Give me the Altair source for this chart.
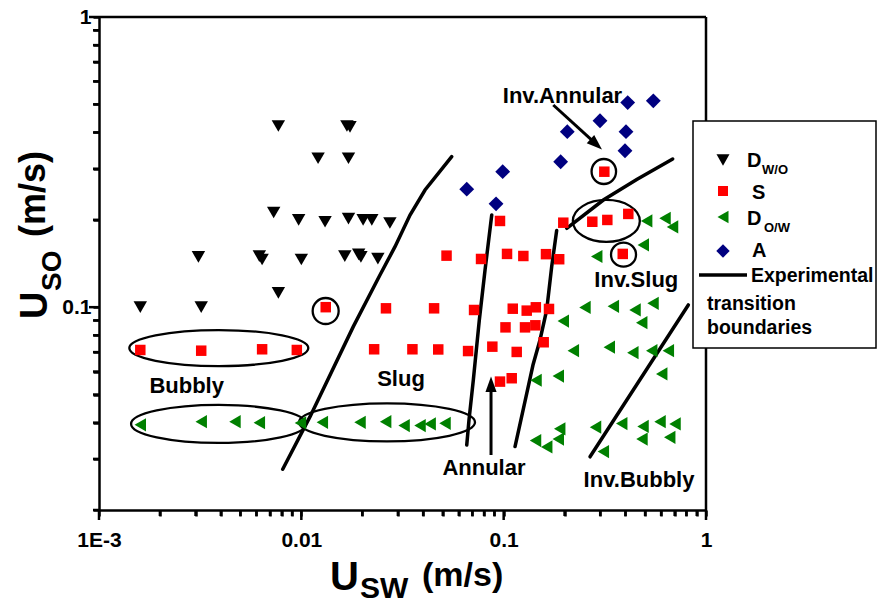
import math
import altair as alt
import pandas as pd

# ---------------- data ----------------
series_names = ["D_W/O", "S", "D_O/W", "A"]
series_colors = ["#000000", "#FF0000", "#008000", "#000080"]
series_shapes = ["triangle-down", "square", "triangle-left", "diamond"]
series_sizes = [180, 110, 175, 220]

dwo_x = [0.0016, 0.0032, 0.0077, 0.0031, 0.0064, 0.0062, 0.0100, 0.0164, 0.0197, 0.0192, 0.0239,
         0.0073, 0.0097, 0.0131, 0.0171, 0.0202, 0.0223, 0.0274, 0.0121, 0.0171, 0.0077, 0.0168, 0.0174]
dwo_y = [0.100, 0.100, 0.112, 0.149, 0.146, 0.150, 0.146, 0.150, 0.149, 0.152, 0.147,
         0.212, 0.200, 0.197, 0.202, 0.200, 0.200, 0.195, 0.326, 0.326, 0.421, 0.421, 0.418]

s_x = [0.0016, 0.0032, 0.0064, 0.0095, 0.0132, 0.0229, 0.0262, 0.0354, 0.0453, 0.0475,
       0.0522, 0.0667, 0.0714, 0.0773, 0.0879, 0.0959, 0.0959, 0.1021, 0.1039, 0.1109,
       0.1096, 0.1160, 0.1251, 0.1275, 0.1300, 0.1434, 0.1442, 0.1577, 0.1619, 0.1675,
       0.1881, 0.1971, 0.2742, 0.3144, 0.3253, 0.3877, 0.4130]
s_y = [0.0712, 0.0708, 0.0716, 0.0712, 0.1000, 0.0716, 0.0991, 0.0716, 0.0991, 0.0715,
       0.1505, 0.0706, 0.0978, 0.1466, 0.0731, 0.1982, 0.0554, 0.0852, 0.1526, 0.0988,
       0.0569, 0.0701, 0.1501, 0.0852, 0.0973, 0.0866, 0.0999, 0.0757, 0.1523, 0.0986,
       0.1463, 0.1955, 0.1970, 0.2930, 0.1998, 0.1526, 0.2096]

dow_x = [0.0016, 0.0032, 0.0047, 0.0062, 0.0099, 0.0127, 0.0195, 0.0261, 0.0322, 0.0386, 0.0433, 0.0513,
         0.1437, 0.1632, 0.1445, 0.1862, 0.1862, 0.1892, 0.1971, 0.2209, 0.2523, 0.2844, 0.2883, 0.3109,
         0.3327, 0.3483, 0.3833, 0.4349, 0.4459, 0.4811, 0.4825, 0.4884, 0.4898, 0.5090, 0.5392, 0.5472,
         0.5927, 0.6042, 0.6273, 0.6515, 0.6618, 0.6831, 0.7029]
dow_y = [0.0393, 0.0403, 0.0403, 0.0400, 0.0399, 0.0401, 0.0401, 0.0403, 0.0391, 0.0391, 0.0396, 0.0398,
         0.0347, 0.0330, 0.0560, 0.0579, 0.0351, 0.0381, 0.0896, 0.0708, 0.0998, 0.0386, 0.1495, 0.0318,
         0.0728, 0.1007, 0.0397, 0.0697, 0.0978, 0.0884, 0.0351, 0.0388, 0.1638, 0.1982, 0.0708, 0.1031,
         0.0403, 0.0589, 0.2024, 0.0708, 0.0356, 0.1890, 0.0396]

a_x = [0.0657, 0.0917, 0.0989, 0.1913, 0.2063, 0.2993, 0.4024, 0.3978, 0.4102, 0.5491]
a_y = [0.255, 0.227, 0.293, 0.317, 0.4025, 0.439, 0.4025, 0.346, 0.507, 0.514]

# experimental transition boundaries
b1_x = [0.00809, 0.01104, 0.01806, 0.02447, 0.02904, 0.03445, 0.04086, 0.05536]
b1_y = [0.02763, 0.04195, 0.0857, 0.1291, 0.1616, 0.2078, 0.2534, 0.3302]
b2_x = [0.0657, 0.0674, 0.0708, 0.0758, 0.0809, 0.0873]
b2_y = [0.0335, 0.0409, 0.0561, 0.0903, 0.1343, 0.2078]
b3_x = [0.1138, 0.1290, 0.1396, 0.1512, 0.1632, 0.1727, 0.1828]
b3_y = [0.0331, 0.0492, 0.0632, 0.0771, 0.0978, 0.1379, 0.1837]
b4_x = [0.2049, 0.3109, 0.4546, 0.6845]
b4_y = [0.1870, 0.2340, 0.2754, 0.3241]
b5_x = [0.2672, 0.8177]
b5_y = [0.0305, 0.1018]

# ellipses around groups (centre in data units, width/height in px)
ell_x = [0.00391, 0.0039, 0.02651, 0.01319, 0.3126, 0.3217, 0.3912]
ell_y = [0.0723, 0.0396, 0.0401, 0.0970, 0.2935, 0.1982, 0.1517]
ell_w = [179, 175, 176, 26, 24.5, 67, 25]
ell_h = [36, 38, 38, 26, 25, 42, 24]

# regime labels
ann_text = ["Bubbly", "Slug", "Annular", "Inv.Bubbly", "Inv.Slug", "Inv.Annular"]
ann_x = [0.002713, 0.03109, 0.07993, 0.4666, 0.4525, 0.1953]
ann_y = [0.05061, 0.05353, 0.02641, 0.02392, 0.1169, 0.5055]

# arrows (start -> head centre), head angle in degrees
arr_x = [0.0866, 0.1759]
arr_y = [0.03094, 0.4975]
arr_x2 = [0.0866, 0.2867]
arr_y2 = [0.05429, 0.3644]
arr_angle = [0, 132]

x_major = [0.001, 0.01, 0.1, 1]
x_minor = [0.002, 0.003, 0.004, 0.005, 0.006, 0.007, 0.008, 0.009,
           0.02, 0.03, 0.04, 0.05, 0.06, 0.07, 0.08, 0.09,
           0.2, 0.3, 0.4, 0.5, 0.6, 0.7, 0.8, 0.9]
x_labels = ["1E-3", "0.01", "0.1", "1"]
y_major = [0.1, 1]
y_minor = [0.02, 0.03, 0.04, 0.05, 0.06, 0.07, 0.08, 0.09,
           0.2, 0.3, 0.4, 0.5, 0.6, 0.7, 0.8, 0.9]
y_labels = ["0.1", "1"]

X_DOMAIN = [0.001, 1]
Y_DOMAIN = [0.02, 1]

# ---------------- tables ----------------
series_xy = [(dwo_x, dwo_y), (s_x, s_y), (dow_x, dow_y), (a_x, a_y)]

bnd_frames = []
for i, (bx, by) in enumerate([(b1_x, b1_y), (b2_x, b2_y), (b3_x, b3_y), (b4_x, b4_y), (b5_x, b5_y)]):
    bnd_frames.append(pd.DataFrame({"x": bx, "y": by, "seg": i, "order": list(range(len(bx)))}))
bnd = pd.concat(bnd_frames, ignore_index=True)

ann = pd.DataFrame({"x": ann_x, "y": ann_y, "text": ann_text})
arr = pd.DataFrame({"x": arr_x, "y": arr_y, "x2": arr_x2, "y2": arr_y2, "angle": arr_angle})
dummy = pd.DataFrame({"d": [0]})

# ---------------- styling ----------------
FONT = "Liberation Sans"
W, H = 607, 493
MAJ, MIN = 10, 6
x_px_per_dec = W / math.log10(X_DOMAIN[1] / X_DOMAIN[0])
y_px_per_dec = H / math.log10(Y_DOMAIN[1] / Y_DOMAIN[0])


def label_expr(values, labels):
    parts = []
    for v, l in zip(values, labels):
        parts.append(f"abs(datum.value - {v}) < {v * 1e-6} ? '{l}'")
    return " : ".join(parts) + " : ''"


xax = alt.Axis(values=sorted(x_major + x_minor), title=None, grid=False, ticks=True,
               tickSize=MIN, tickWidth=2.5, tickColor="black",
               labelExpr=label_expr(x_major, x_labels),
               labelFlush=False, labelOverlap=False, labelBound=False,
               domainColor="black", domainWidth=2.5,
               labelFont=FONT, labelFontWeight="bold", labelFontSize=21, labelColor="black",
               labelPadding=13)
yax = alt.Axis(values=sorted(y_major + y_minor), title=None, grid=False, ticks=True,
               tickSize=MIN, tickWidth=2.5, tickColor="black",
               labelExpr=label_expr(y_major, y_labels),
               labelFlush=False, labelOverlap=False, labelBound=False,
               domainColor="black", domainWidth=2.5,
               labelFont=FONT, labelFontWeight="bold", labelFontSize=21, labelColor="black",
               labelPadding=2)

xsc = alt.Scale(type="log", domain=X_DOMAIN, nice=False)
ysc = alt.Scale(type="log", domain=Y_DOMAIN, nice=False)


def X(f):
    return alt.X(f, type="quantitative", scale=xsc, axis=xax)


def Y(f):
    return alt.Y(f, type="quantitative", scale=ysc, axis=yax)


layers = []

# tick marks through the scales: from the domain edge outward (major longer than minor)
for vals, ln in [(x_major, MAJ), (x_minor, MIN)]:
    y_out = Y_DOMAIN[0] * 10 ** (-ln / y_px_per_dec)
    tdf = pd.DataFrame({"v": vals, "y0": Y_DOMAIN[0], "y1": y_out})
    layers.append(alt.Chart(tdf).mark_rule(color="black", strokeWidth=2.5, clip=False).encode(
        x=X("v"), y=Y("y0"), y2="y1"))
for vals, ln in [(y_major, MAJ), (y_minor, MIN)]:
    x_out = X_DOMAIN[0] * 10 ** (-ln / x_px_per_dec)
    tdf = pd.DataFrame({"v": vals, "x0": X_DOMAIN[0], "x1": x_out})
    layers.append(alt.Chart(tdf).mark_rule(color="black", strokeWidth=2.5, clip=False).encode(
        y=Y("v"), x=X("x0"), x2="x1"))

# transition boundaries
layers.append(alt.Chart(bnd).mark_line(color="black", strokeWidth=3.5, strokeCap="round").encode(
    x=X("x"), y=Y("y"), detail="seg:N", order="order:Q"))

# ellipses (one layer each, custom ellipse path)
for ex, ey, ew, eh in zip(ell_x, ell_y, ell_w, ell_h):
    r = eh / ew
    path = f"M-1,0A1,{r:.4f} 0 1,0 1,0A1,{r:.4f} 0 1,0 -1,0Z"
    layers.append(alt.Chart(pd.DataFrame({"x": [ex], "y": [ey]})).mark_point(
        shape=path, size=ew * ew, filled=False, color="black", strokeWidth=2.3, opacity=1).encode(
        x=X("x"), y=Y("y")))

# data points
for (sx, sy), shp, col, sz in zip(series_xy, series_shapes, series_colors, series_sizes):
    layers.append(alt.Chart(pd.DataFrame({"x": sx, "y": sy})).mark_point(
        shape=shp, filled=True, color=col, size=sz, opacity=1, strokeWidth=0).encode(
        x=X("x"), y=Y("y")))

# regime labels
layers.append(alt.Chart(ann).mark_text(font=FONT, fontWeight="bold", fontSize=22, color="black",
                                       align="center", baseline="alphabetic").encode(
    x=X("x"), y=Y("y"), text="text:N"))

# arrows
layers.append(alt.Chart(arr).mark_rule(color="black", strokeWidth=3).encode(
    x=X("x"), y=Y("y"), x2="x2", y2="y2"))
layers.append(alt.Chart(arr).mark_point(shape="M0,-1L0.72,1L-0.72,1Z", filled=True, color="black",
                                        size=240, opacity=1, strokeWidth=0).encode(
    x=X("x2"), y=Y("y2"), angle=alt.Angle("angle:Q", scale=None)))

# top and right frame
layers.append(alt.Chart(dummy).mark_rule(color="black", strokeWidth=2.5).encode(
    x=alt.value(0), x2=alt.value(W), y=alt.value(0)))
layers.append(alt.Chart(dummy).mark_rule(color="black", strokeWidth=2.5).encode(
    x=alt.value(W), y=alt.value(0), y2=alt.value(H)))


def txt(s, px, py, size, angle=0, align="left", baseline="alphabetic"):
    return alt.Chart(dummy).mark_text(text=s, font=FONT, fontWeight="bold", fontSize=size, angle=angle,
                                      align=align, baseline=baseline, color="black").encode(
        x=alt.value(px), y=alt.value(py))


# axis titles with subscripts
layers.append(txt("U", 231, 573, 40))
layers.append(txt("SW", 261, 581, 30))
layers.append(txt("(m/s)", 323, 569, 34))
layers.append(txt("U", -52, 302, 38, angle=270))
layers.append(txt("SO", -38, 274, 28, angle=270))
layers.append(txt("(m/s)", -54, 220, 36, angle=270))

# legend box
layers.append(alt.Chart(dummy).mark_rect(fill="white", stroke="black", strokeWidth=1.5).encode(
    x=alt.value(594), x2=alt.value(777), y=alt.value(104), y2=alt.value(331)))


def lmark(shape, color, px, py, size):
    return alt.Chart(dummy).mark_point(shape=shape, filled=True, color=color, size=size, opacity=1,
                                       strokeWidth=0).encode(x=alt.value(px), y=alt.value(py))


layers.append(lmark(series_shapes[0], series_colors[0], 624, 143, 170))
layers.append(lmark(series_shapes[1], series_colors[1], 624, 174, 100))
layers.append(lmark(series_shapes[2], series_colors[2], 624, 200, 160))
layers.append(lmark(series_shapes[3], series_colors[3], 624, 234, 180))
layers.append(alt.Chart(dummy).mark_rule(color="black", strokeWidth=3.5).encode(
    x=alt.value(600), x2=alt.value(648), y=alt.value(258)))
layers.append(txt("D", 648, 150, 20))
layers.append(txt("W/O", 663, 157, 13))
layers.append(txt("S", 653, 182, 20))
layers.append(txt("D", 648, 208, 20))
layers.append(txt("O/W", 665, 215, 13))
layers.append(txt("A", 653, 240, 20))
layers.append(txt("Experimental", 652, 265, 19.5))
layers.append(txt("transition", 608, 293, 19.5))
layers.append(txt("boundaries", 608, 317, 19.5))

chart = alt.layer(*layers).properties(
    width=W, height=H,
    autosize=alt.AutoSizeParams(type="none"),
    padding={"left": 99, "top": 17, "right": 172, "bottom": 94},
    background="white",
).configure_view(stroke=None)

chart.save("out.html", embed_options={"renderer": "svg", "actions": False})
